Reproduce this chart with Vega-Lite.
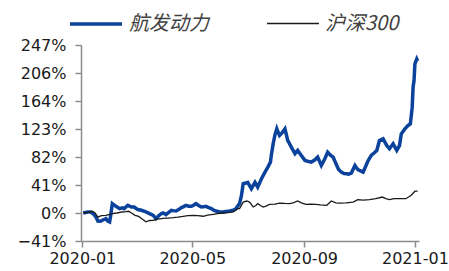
{
  "$schema": "https://vega.github.io/schema/vega-lite/v6.json",
  "width": 338,
  "height": 196,
  "autosize": {"type": "none"},
  "padding": {"left": 81, "top": 45, "right": 30, "bottom": 30},
  "background": "white",
  "config": {"view": {"stroke": null}},
  "data": {
    "values": [
      {"date": "2020-01-02", "series": "航发动力", "value": 0},
      {"date": "2020-01-07", "series": "航发动力", "value": 1.5},
      {"date": "2020-01-10", "series": "航发动力", "value": 1.5},
      {"date": "2020-01-13", "series": "航发动力", "value": -1},
      {"date": "2020-01-16", "series": "航发动力", "value": -5.9},
      {"date": "2020-01-18", "series": "航发动力", "value": -11.7},
      {"date": "2020-01-21", "series": "航发动力", "value": -12},
      {"date": "2020-01-23", "series": "航发动力", "value": -10.7},
      {"date": "2020-01-27", "series": "航发动力", "value": -8.2},
      {"date": "2020-01-29", "series": "航发动力", "value": -12},
      {"date": "2020-01-31", "series": "航发动力", "value": -13.2},
      {"date": "2020-02-01", "series": "航发动力", "value": -5},
      {"date": "2020-02-03", "series": "航发动力", "value": 13.8},
      {"date": "2020-02-07", "series": "航发动力", "value": 9.8},
      {"date": "2020-02-11", "series": "航发动力", "value": 6.4},
      {"date": "2020-02-14", "series": "航发动力", "value": 7.5},
      {"date": "2020-02-16", "series": "航发动力", "value": 6.4},
      {"date": "2020-02-20", "series": "航发动力", "value": 11.3},
      {"date": "2020-02-24", "series": "航发动力", "value": 8.8},
      {"date": "2020-02-27", "series": "航发动力", "value": 8.8},
      {"date": "2020-03-02", "series": "航发动力", "value": 5},
      {"date": "2020-03-06", "series": "航发动力", "value": 4},
      {"date": "2020-03-11", "series": "航发动力", "value": 1.5},
      {"date": "2020-03-15", "series": "航发动力", "value": -1},
      {"date": "2020-03-19", "series": "航发动力", "value": -3.4},
      {"date": "2020-03-22", "series": "航发动力", "value": -8.2},
      {"date": "2020-03-25", "series": "航发动力", "value": -4},
      {"date": "2020-03-28", "series": "航发动力", "value": -0.9},
      {"date": "2020-03-30", "series": "航发动力", "value": 0},
      {"date": "2020-04-02", "series": "航发动力", "value": -2.3},
      {"date": "2020-04-05", "series": "航发动力", "value": 1},
      {"date": "2020-04-08", "series": "航发动力", "value": 4},
      {"date": "2020-04-10", "series": "航发动力", "value": 3.5},
      {"date": "2020-04-13", "series": "航发动力", "value": 2.9},
      {"date": "2020-04-16", "series": "航发动力", "value": 5},
      {"date": "2020-04-19", "series": "航发动力", "value": 7.9},
      {"date": "2020-04-21", "series": "航发动力", "value": 9},
      {"date": "2020-04-24", "series": "航发动力", "value": 11.3},
      {"date": "2020-04-27", "series": "航发动力", "value": 10},
      {"date": "2020-04-30", "series": "航发动力", "value": 9.8},
      {"date": "2020-05-02", "series": "航发动力", "value": 11},
      {"date": "2020-05-05", "series": "航发动力", "value": 13.8},
      {"date": "2020-05-08", "series": "航发动力", "value": 11},
      {"date": "2020-05-11", "series": "航发动力", "value": 8.8},
      {"date": "2020-05-13", "series": "航发动力", "value": 9},
      {"date": "2020-05-16", "series": "航发动力", "value": 9.8},
      {"date": "2020-05-19", "series": "航发动力", "value": 8},
      {"date": "2020-05-22", "series": "航发动力", "value": 6.4},
      {"date": "2020-05-24", "series": "航发动力", "value": 4.5},
      {"date": "2020-05-27", "series": "航发动力", "value": 2.9},
      {"date": "2020-05-31", "series": "航发动力", "value": 1.5},
      {"date": "2020-06-04", "series": "航发动力", "value": 1.5},
      {"date": "2020-06-07", "series": "航发动力", "value": 2.2},
      {"date": "2020-06-11", "series": "航发动力", "value": 2.9},
      {"date": "2020-06-15", "series": "航发动力", "value": 4},
      {"date": "2020-06-18", "series": "航发动力", "value": 6.4},
      {"date": "2020-06-22", "series": "航发动力", "value": 13.8},
      {"date": "2020-06-24", "series": "航发动力", "value": 25},
      {"date": "2020-06-26", "series": "航发动力", "value": 43},
      {"date": "2020-06-29", "series": "航发动力", "value": 44},
      {"date": "2020-07-01", "series": "航发动力", "value": 45},
      {"date": "2020-07-05", "series": "航发动力", "value": 35.7},
      {"date": "2020-07-09", "series": "航发动力", "value": 45},
      {"date": "2020-07-12", "series": "航发动力", "value": 38},
      {"date": "2020-07-16", "series": "航发动力", "value": 50},
      {"date": "2020-07-20", "series": "航发动力", "value": 60},
      {"date": "2020-07-23", "series": "航发动力", "value": 67},
      {"date": "2020-07-26", "series": "航发动力", "value": 74.7},
      {"date": "2020-07-27", "series": "航发动力", "value": 85},
      {"date": "2020-07-29", "series": "航发动力", "value": 101.6},
      {"date": "2020-07-31", "series": "航发动力", "value": 115},
      {"date": "2020-08-02", "series": "航发动力", "value": 123.6},
      {"date": "2020-08-03", "series": "航发动力", "value": 120},
      {"date": "2020-08-05", "series": "航发动力", "value": 113.8},
      {"date": "2020-08-08", "series": "航发动力", "value": 118},
      {"date": "2020-08-11", "series": "航发动力", "value": 123.6},
      {"date": "2020-08-14", "series": "航发动力", "value": 106.5},
      {"date": "2020-08-18", "series": "航发动力", "value": 96.6},
      {"date": "2020-08-22", "series": "航发动力", "value": 87},
      {"date": "2020-08-25", "series": "航发动力", "value": 91.8},
      {"date": "2020-08-29", "series": "航发动力", "value": 84.5},
      {"date": "2020-09-02", "series": "航发动力", "value": 77.2},
      {"date": "2020-09-05", "series": "航发动力", "value": 76},
      {"date": "2020-09-09", "series": "航发动力", "value": 74.7},
      {"date": "2020-09-13", "series": "航发动力", "value": 78},
      {"date": "2020-09-16", "series": "航发动力", "value": 82},
      {"date": "2020-09-20", "series": "航发动力", "value": 69.8},
      {"date": "2020-09-24", "series": "航发动力", "value": 80},
      {"date": "2020-09-27", "series": "航发动力", "value": 89.3},
      {"date": "2020-09-30", "series": "航发动力", "value": 85},
      {"date": "2020-10-03", "series": "航发动力", "value": 82},
      {"date": "2020-10-07", "series": "航发动力", "value": 69.8},
      {"date": "2020-10-09", "series": "航发动力", "value": 64},
      {"date": "2020-10-12", "series": "航发动力", "value": 60},
      {"date": "2020-10-15", "series": "航发动力", "value": 58},
      {"date": "2020-10-18", "series": "航发动力", "value": 57.7},
      {"date": "2020-10-20", "series": "航发动力", "value": 57},
      {"date": "2020-10-23", "series": "航发动力", "value": 58.6},
      {"date": "2020-10-27", "series": "航发动力", "value": 69.8},
      {"date": "2020-10-30", "series": "航发动力", "value": 64},
      {"date": "2020-11-01", "series": "航发动力", "value": 62.5},
      {"date": "2020-11-05", "series": "航发动力", "value": 60},
      {"date": "2020-11-09", "series": "航发动力", "value": 72.3},
      {"date": "2020-11-11", "series": "航发动力", "value": 78},
      {"date": "2020-11-14", "series": "航发动力", "value": 84.5},
      {"date": "2020-11-17", "series": "航发动力", "value": 88},
      {"date": "2020-11-20", "series": "航发动力", "value": 91.8},
      {"date": "2020-11-23", "series": "航发动力", "value": 106.5},
      {"date": "2020-11-27", "series": "航发动力", "value": 108.9},
      {"date": "2020-12-01", "series": "航发动力", "value": 99},
      {"date": "2020-12-04", "series": "航发动力", "value": 94.3},
      {"date": "2020-12-08", "series": "航发动力", "value": 101.6},
      {"date": "2020-12-12", "series": "航发动力", "value": 91.8},
      {"date": "2020-12-15", "series": "航发动力", "value": 99},
      {"date": "2020-12-17", "series": "航发动力", "value": 116},
      {"date": "2020-12-21", "series": "航发动力", "value": 123.6},
      {"date": "2020-12-24", "series": "航发动力", "value": 128},
      {"date": "2020-12-27", "series": "航发动力", "value": 131},
      {"date": "2020-12-29", "series": "航发动力", "value": 155},
      {"date": "2020-12-30", "series": "航发动力", "value": 185},
      {"date": "2020-12-31", "series": "航发动力", "value": 194},
      {"date": "2021-01-01", "series": "航发动力", "value": 219},
      {"date": "2021-01-03", "series": "航发动力", "value": 226},
      {"date": "2021-01-04", "series": "航发动力", "value": 223},
      {"date": "2020-01-02", "series": "沪深300", "value": 0},
      {"date": "2020-01-07", "series": "沪深300", "value": 1},
      {"date": "2020-01-12", "series": "沪深300", "value": 2.5},
      {"date": "2020-01-15", "series": "沪深300", "value": 0},
      {"date": "2020-01-18", "series": "沪深300", "value": -6},
      {"date": "2020-01-22", "series": "沪深300", "value": -4},
      {"date": "2020-01-27", "series": "沪深300", "value": -3.4},
      {"date": "2020-01-31", "series": "沪深300", "value": -2},
      {"date": "2020-02-03", "series": "沪深300", "value": -1},
      {"date": "2020-02-08", "series": "沪深300", "value": 0},
      {"date": "2020-02-14", "series": "沪深300", "value": 1.5},
      {"date": "2020-02-18", "series": "沪深300", "value": 2},
      {"date": "2020-02-21", "series": "沪深300", "value": 2.5},
      {"date": "2020-02-24", "series": "沪深300", "value": 0},
      {"date": "2020-02-28", "series": "沪深300", "value": -3.4},
      {"date": "2020-03-03", "series": "沪深300", "value": -5},
      {"date": "2020-03-06", "series": "沪深300", "value": -8},
      {"date": "2020-03-08", "series": "沪深300", "value": -10},
      {"date": "2020-03-11", "series": "沪深300", "value": -13},
      {"date": "2020-03-15", "series": "沪深300", "value": -11},
      {"date": "2020-03-19", "series": "沪深300", "value": -10.7},
      {"date": "2020-03-24", "series": "沪深300", "value": -9},
      {"date": "2020-03-30", "series": "沪深300", "value": -8},
      {"date": "2020-04-04", "series": "沪深300", "value": -7.5},
      {"date": "2020-04-10", "series": "沪深300", "value": -6.8},
      {"date": "2020-04-15", "series": "沪深300", "value": -6},
      {"date": "2020-04-21", "series": "沪深300", "value": -4.8},
      {"date": "2020-04-26", "series": "沪深300", "value": -4},
      {"date": "2020-05-02", "series": "沪深300", "value": -3.4},
      {"date": "2020-05-07", "series": "沪深300", "value": -4},
      {"date": "2020-05-13", "series": "沪深300", "value": -4.8},
      {"date": "2020-05-18", "series": "沪深300", "value": -3},
      {"date": "2020-05-24", "series": "沪深300", "value": -1.9},
      {"date": "2020-05-29", "series": "沪深300", "value": -1},
      {"date": "2020-06-04", "series": "沪深300", "value": 0},
      {"date": "2020-06-09", "series": "沪深300", "value": 0.5},
      {"date": "2020-06-15", "series": "沪深300", "value": 1.5},
      {"date": "2020-06-20", "series": "沪深300", "value": 6.4},
      {"date": "2020-06-22", "series": "沪深300", "value": 6.4},
      {"date": "2020-06-26", "series": "沪深300", "value": 16},
      {"date": "2020-06-30", "series": "沪深300", "value": 17.6},
      {"date": "2020-07-03", "series": "沪深300", "value": 16},
      {"date": "2020-07-07", "series": "沪深300", "value": 8.8},
      {"date": "2020-07-10", "series": "沪深300", "value": 11},
      {"date": "2020-07-12", "series": "沪深300", "value": 13.8},
      {"date": "2020-07-15", "series": "沪深300", "value": 11},
      {"date": "2020-07-18", "series": "沪深300", "value": 8.8},
      {"date": "2020-07-21", "series": "沪深300", "value": 10},
      {"date": "2020-07-25", "series": "沪深300", "value": 12.7},
      {"date": "2020-07-31", "series": "沪深300", "value": 13},
      {"date": "2020-08-05", "series": "沪深300", "value": 14.6},
      {"date": "2020-08-11", "series": "沪深300", "value": 14},
      {"date": "2020-08-16", "series": "沪深300", "value": 13.8},
      {"date": "2020-08-20", "series": "沪深300", "value": 15},
      {"date": "2020-08-25", "series": "沪深300", "value": 17.6},
      {"date": "2020-08-29", "series": "沪深300", "value": 15},
      {"date": "2020-09-03", "series": "沪深300", "value": 12.7},
      {"date": "2020-09-08", "series": "沪深300", "value": 13},
      {"date": "2020-09-14", "series": "沪深300", "value": 12.7},
      {"date": "2020-09-19", "series": "沪深300", "value": 12},
      {"date": "2020-09-26", "series": "沪深300", "value": 11.3},
      {"date": "2020-10-01", "series": "沪深300", "value": 17.6},
      {"date": "2020-10-06", "series": "沪深300", "value": 15},
      {"date": "2020-10-10", "series": "沪深300", "value": 14.6},
      {"date": "2020-10-17", "series": "沪深300", "value": 15},
      {"date": "2020-10-25", "series": "沪深300", "value": 16},
      {"date": "2020-10-30", "series": "沪深300", "value": 19.6},
      {"date": "2020-11-05", "series": "沪深300", "value": 19},
      {"date": "2020-11-12", "series": "沪深300", "value": 19.6},
      {"date": "2020-11-19", "series": "沪深300", "value": 21},
      {"date": "2020-11-26", "series": "沪深300", "value": 23.4},
      {"date": "2020-11-30", "series": "沪深300", "value": 21},
      {"date": "2020-12-04", "series": "沪深300", "value": 19.6},
      {"date": "2020-12-09", "series": "沪深300", "value": 21},
      {"date": "2020-12-15", "series": "沪深300", "value": 21},
      {"date": "2020-12-22", "series": "沪深300", "value": 21},
      {"date": "2020-12-28", "series": "沪深300", "value": 26},
      {"date": "2021-01-01", "series": "沪深300", "value": 32},
      {"date": "2021-01-04", "series": "沪深300", "value": 32}
    ]
  },
  "mark": {"type": "line", "interpolate": "linear"},
  "encoding": {
    "x": {
      "field": "date",
      "type": "temporal",
      "scale": {
        "type": "utc",
        "domain": [
          {"year": 2019, "month": 12, "date": 30, "hours": 12, "utc": true},
          {"year": 2021, "month": 1, "date": 5, "hours": 12, "utc": true}
        ]
      },
      "axis": {
        "title": null,
        "values": [
          {"year": 2020, "month": 1, "date": 1, "utc": true},
          {"year": 2020, "month": 5, "date": 1, "utc": true},
          {"year": 2020, "month": 9, "date": 1, "utc": true},
          {"year": 2021, "month": 1, "date": 1, "utc": true}
        ],
        "format": "%Y-%m",
        "grid": false,
        "domainColor": "#8c8c8c",
        "domainWidth": 1.5,
        "tickColor": "#8c8c8c",
        "tickWidth": 1.5,
        "tickSize": 6,
        "labelPadding": 3,
        "labelFont": "DejaVu Sans",
        "labelFontSize": 16,
        "labelColor": "#1a1a1a",
        "labelFlush": false,
        "labelOverlap": false
      }
    },
    "y": {
      "field": "value",
      "type": "quantitative",
      "scale": {"domain": [-41.1, 246.6], "nice": false, "zero": false},
      "axis": {
        "title": null,
        "values": [-41.1, 0, 41.1, 82.2, 123.3, 164.4, 205.5, 246.6],
        "labelExpr": "format(datum.value, '.0f') + '%'",
        "grid": false,
        "domainColor": "#8c8c8c",
        "domainWidth": 1.5,
        "tickColor": "#8c8c8c",
        "tickWidth": 1.5,
        "tickSize": 6,
        "labelPadding": 9,
        "labelFont": "DejaVu Sans",
        "labelFontSize": 16,
        "labelColor": "#1a1a1a",
        "labelOverlap": false
      }
    },
    "color": {
      "field": "series",
      "type": "nominal",
      "scale": {"domain": ["航发动力", "沪深300"], "range": ["#0B429C", "#1a1a1a"]},
      "legend": {
        "title": null,
        "orient": "none",
        "direction": "horizontal",
        "legendX": -13,
        "legendY": -49,
        "padding": 0,
        "symbolType": "stroke",
        "symbolSize": 2700,
        "labelOffset": 5,
        "columnPadding": 55,
        "labelFont": "Noto Sans CJK SC",
        "labelFontSize": 20,
        "labelFontStyle": "italic",
        "labelColor": "#404040"
      }
    },
    "strokeWidth": {
      "field": "series",
      "type": "nominal",
      "scale": {"domain": ["航发动力", "沪深300"], "range": [3.5, 1.3]},
      "legend": {
        "title": null,
        "orient": "none",
        "direction": "horizontal",
        "legendX": -13,
        "legendY": -49,
        "padding": 0,
        "symbolType": "stroke",
        "symbolSize": 2700,
        "labelOffset": 5,
        "columnPadding": 55,
        "labelFont": "Noto Sans CJK SC",
        "labelFontSize": 20,
        "labelFontStyle": "italic",
        "labelColor": "#404040"
      }
    }
  }
}
